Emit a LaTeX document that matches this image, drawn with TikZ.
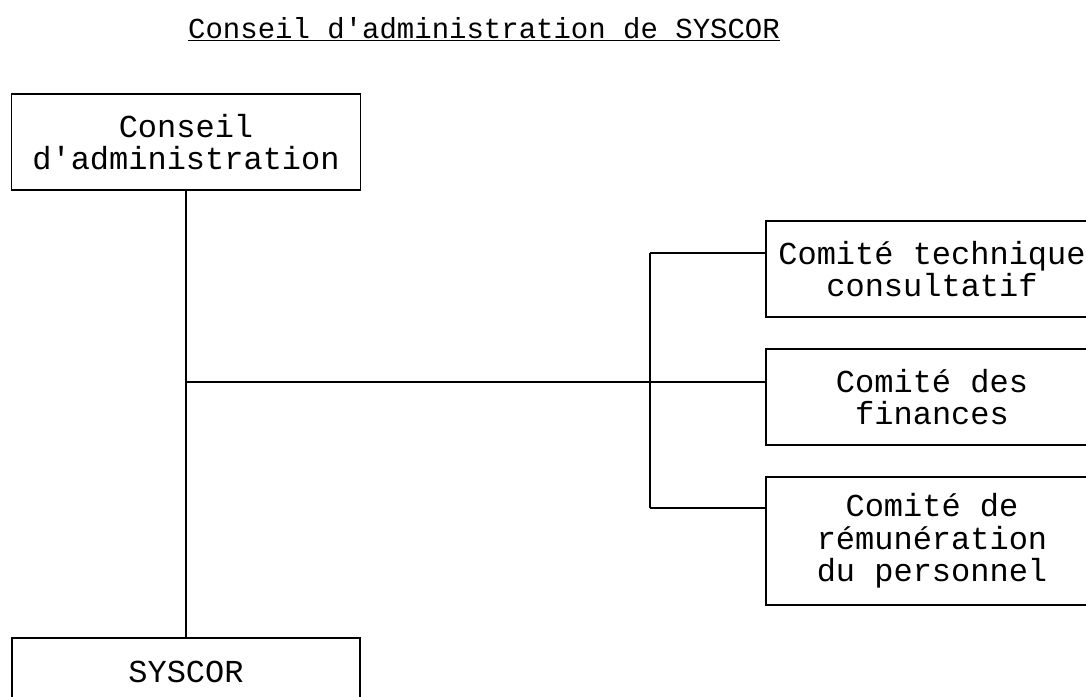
\documentclass[tikz,border=0pt]{standalone}
\usepackage{fontspec}
\setmonofont{Liberation Mono}
\begin{document}
\begin{tikzpicture}[x=1pt,y=-1pt,line width=1.2pt,
  boite/.style={draw,rectangle,inner sep=0pt,align=center,
    font=\ttfamily\fontsize{32}{32.5}\selectfont}]
  %\draw[help lines] (0,0) grid (1086,696);
  \useasboundingbox (0,0) rectangle (1086,696);

  \draw (484,38) node[anchor=base,font=\ttfamily\fontsize{29}{30}\selectfont](titre)
    {\underline{Conseil d'administration de SYSCOR}};

  \draw (186,142) node[boite,minimum width=349,minimum height=96](ca)
    {Conseil\\d'administration};
  \draw (186,672) node[boite,minimum width=348,minimum height=68](syscor)
    {SYSCOR};

  \draw (932,269) node[boite,minimum width=332,minimum height=96](technique)
    {Comité technique\\consultatif};
  \draw (932,397) node[boite,minimum width=332,minimum height=96](finances)
    {Comité des\\finances};
  \draw (932,541) node[boite,minimum width=332,minimum height=128](remuneration)
    {Comité de\\rémunération\\du personnel};

  \coordinate (jonction) at (186,382);
  \coordinate (haut)     at (650,253);
  \coordinate (milieu)   at (650,382);
  \coordinate (bas)      at (650,508);

  \path[draw] (ca) -- (syscor);
  \path[draw] (jonction) -- (jonction -| finances.west);

  \path[draw] (haut) -- (bas);
  \path[draw] (haut) -- (haut -| technique.west);
  \path[draw] (bas) -- (bas -| remuneration.west);

\end{tikzpicture}
\end{document}
